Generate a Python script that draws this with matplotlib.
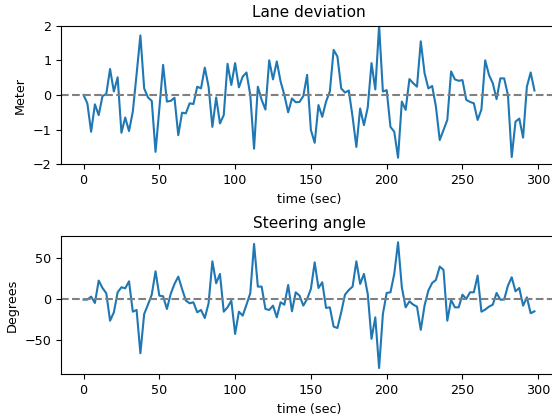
import numpy as np
import matplotlib
matplotlib.use("Agg")
import matplotlib.pyplot as plt

plt.rcParams["font.size"] = 9.2

time_sec = np.arange(0, 300, 2.5)

lane_deviation = [
    0.0, -0.24, -1.06, -0.27, -0.58, -0.03, 0.03, 0.75, 0.1, 0.51,
    -1.09, -0.65, -1.04, -0.48, 0.6, 1.72, 0.19, -0.07, -0.17, -1.64,
    -0.4, 0.87, -0.19, -0.17, -0.08, -1.16, -0.51, -0.53, -0.24, -0.26,
    0.24, 0.19, 0.79, 0.24, -0.92, -0.07, -0.82, -0.58, 0.9, 0.29,
    0.92, 0.22, 0.53, 0.65, 0.0, -1.55, 0.24, -0.14, -0.42, 1.0,
    0.45, 0.97, 0.39, 0.0, -0.5, -0.1, -0.21, -0.2, -0.03, 0.58,
    -1.01, -1.38, -0.29, -0.63, -0.19, 0.1, 1.3, 1.11, 0.19, 0.07,
    0.13, -0.63, -1.5, -0.39, -0.87, -0.36, 0.92, 0.16, 2.0, 0.1,
    0.14, -0.92, -1.06, -1.81, -0.19, -0.43, 0.46, 0.34, 0.24, 1.55,
    0.63, 0.19, 0.26, -0.34, -1.3, -1.01, -0.72, 0.68, 0.45, 0.41,
    0.43, -0.14, -0.2, -0.24, -0.72, -0.42, 1.0, 0.58, 0.34, -0.12,
    0.48, 0.48, 0.0, -1.79, -0.77, -0.68, -1.23, 0.24, 0.65, 0.13,
]

steering_angle = [
    -0.8, -0.8, 2.9, -4.9, 22.6, 13.5, 7.0, -26.7, -16.4, 8.2,
    14.4, 13.1, 21.7, -15.6, -13.5, -66.8, -18.5, -7.0, 5.3, 34.0,
    4.1, 3.3, -12.3, 6.2, 18.5, 27.5, 12.3, -2.0, -5.3, -4.1,
    -16.4, -13.5, -23.4, -5.3, 46.3, 19.3, 30.8, -15.6, -10.3, -2.0,
    -43.0, -15.6, -20.5, -7.0, 7.0, 67.7, 15.2, 15.2, -12.3, -13.5,
    -8.2, -22.6, -4.1, -7.0, 17.2, -15.2, 8.2, 4.1, -8.2, 0.0,
    12.3, 45.0, 13.5, 20.5, -11.0, -10.3, -34.0, -35.7, -16.4, 5.3,
    11.0, 15.2, 46.3, 18.5, 30.8, 6.2, -49.0, -22.6, -84.9, -18.5,
    7.4, 8.2, 30.8, 69.7, 14.4, -10.3, -2.9, -7.0, -9.4, -38.0,
    -8.0, 10.3, 19.7, 23.4, 39.8, 35.7, -26.7, -1.2, -10.3, -10.3,
    5.3, 0.0, 8.2, 8.2, 28.7, -15.6, -13.1, -9.4, -7.0, 7.4,
    -0.8, -0.8, 16.4, 26.7, 9.4, 13.5, -8.2, 2.0, -17.6, -15.2,
]

W, H = 552, 416
fig = plt.figure(figsize=(W / 100, H / 100), dpi=100)

def box(left, top, right, bottom):
    return [left / W, 1 - bottom / H, (right - left) / W, (bottom - top) / H]

ax1 = fig.add_axes(box(61, 25.7, 557, 164.3))
ax2 = fig.add_axes(box(61, 236, 557, 374.3))

ax1.plot(time_sec, lane_deviation)
ax1.axhline(0, color="gray", linestyle="--")
ax1.set_ylim(-2, 2)
ax1.set_title("Lane deviation")
ax1.set_xlabel("time (sec)")
ax1.set_ylabel("Meter")

ax2.plot(time_sec, steering_angle)
ax2.axhline(0, color="gray", linestyle="--")
ax2.set_title("Steering angle")
ax2.set_xlabel("time (sec)")
ax2.set_ylabel("Degrees")

fig.savefig("out.png")
